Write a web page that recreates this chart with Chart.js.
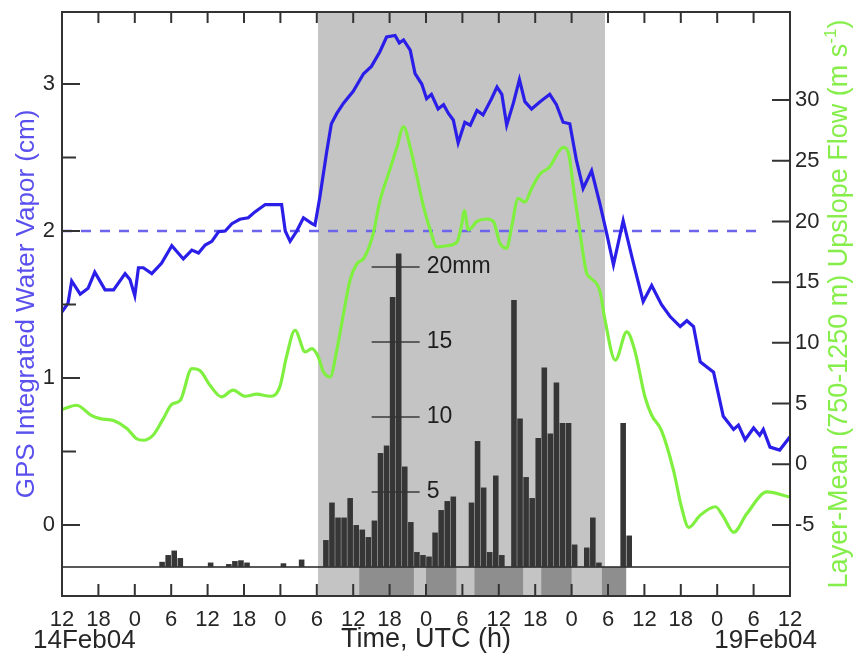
<!DOCTYPE html>
<html>
<head>
<meta charset="utf-8">
<script src="https://cdn.jsdelivr.net/npm/chart.js@4.4.0/dist/chart.umd.min.js"></script>
<style>
  html, body { margin: 0; padding: 0; background: #fff; }
  #wrap { width: 853px; height: 658px; position: relative; }
</style>
</head>
<body>
<div id="wrap"><canvas id="iwvChart"></canvas></div>
<script>
// x values are hours since 14 Feb 2004 12 UTC
const iwvHours = [0, 1, 1.6, 3, 4.3, 5.4, 7.1, 8.5, 10.4, 11.2,
  12, 12.6, 13.4, 14.8, 16.4, 18.1, 20, 21.4, 22.5, 23.6,
  24.7, 25.8, 26.9, 28, 29.3, 30.7, 31.8, 33.5, 36.2, 36.8,
  37.6, 38.7, 39.8, 41.2, 41.7, 42.5, 43.6, 44.4, 45.3, 46.4,
  48, 49.7, 51, 52.4, 53.5, 54.9, 55.6, 56.3, 57.4, 58.2,
  59.3, 60.1, 60.9, 62, 62.9, 63.7, 64.5, 65.3, 66.4, 67.3,
  68.4, 69.4, 70.8, 71.7, 72.5, 73.3, 74.4, 75.4, 76.3, 77.4,
  78.8, 80.4, 81.5, 82.6, 83.7, 84.8, 85.9, 87.3, 88.7, 89.8,
  90.9, 92.5, 94.2, 95.8, 97.2, 98.8, 100.2, 101.9, 103, 104.1,
  105.2, 107.4, 109, 110.7, 111.5, 112.6, 114, 115, 115.6, 116.7,
  118.3, 120];
const iwvCm = [1.45, 1.51, 1.66, 1.57, 1.61, 1.72, 1.60, 1.60, 1.71, 1.67,
  1.56, 1.75, 1.75, 1.71, 1.78, 1.90, 1.81, 1.87, 1.85, 1.905,
  1.93, 1.995, 2.00, 2.05, 2.08, 2.09, 2.13, 2.18, 2.18, 2.00,
  1.93, 2.00, 2.09, 2.05, 2.04, 2.23, 2.53, 2.73, 2.80, 2.87,
  2.95, 3.07, 3.12, 3.22, 3.32, 3.33, 3.28, 3.30, 3.23, 3.07,
  3.00, 2.90, 2.93, 2.83, 2.86, 2.80, 2.755, 2.60, 2.74, 2.72,
  2.82, 2.79, 2.90, 2.98, 2.93, 2.72, 2.87, 3.03, 2.88, 2.83,
  2.88, 2.93, 2.86, 2.74, 2.73, 2.48, 2.29, 2.41, 2.18, 1.98,
  1.77, 2.07, 1.78, 1.52, 1.63, 1.50, 1.42, 1.35, 1.39, 1.35,
  1.11, 1.04, 0.74, 0.65, 0.68, 0.58, 0.66, 0.61, 0.65, 0.53,
  0.51, 0.60];

const flowHours = [0, 2.4, 4.9, 6.3, 8.5, 10.7, 12.3, 13.4, 15, 16.7,
  18.1, 19.5, 21.4, 22.7, 24.4, 26.3, 28.2, 30.2, 32.1, 34.3,
  35.9, 37, 38.4, 40.1, 41.2, 42.2, 43.1, 44.2, 45.3, 46.4,
  47.5, 48.6, 49.8, 51.3, 52.4, 53.8, 55.2, 56.3, 57.4, 58.5,
  59.6, 60.7, 61.8, 63.4, 65.1, 65.9, 66.3, 67, 68.4, 70,
  71.1, 72.2, 73.3, 74.1, 75.2, 76.3, 77.4, 78.8, 80.4, 81.8,
  82.6, 83.5, 84.3, 85.4, 86.5, 87, 88.7, 89.5, 91.2, 93.1,
  94.4, 96.1, 97.2, 98.8, 100.8, 102.1, 103.3, 105.2, 107.7, 109,
  110.7, 112.9, 116.2, 120];
const flowMs = [4.5, 4.86, 4.0, 3.76, 3.6, 2.94, 2.1, 1.98, 2.39, 3.76,
  4.94, 5.27, 7.88, 7.74, 6.5, 5.55, 6.1, 5.6, 5.77, 5.6,
  6.37, 8.84, 11.04, 9.25, 9.53, 8.9, 7.6, 7.19, 9.4, 12.4,
  15.2, 16.5, 17.0, 19.0, 21.7, 23.9, 26.1, 27.8, 26.1, 23.7,
  21.2, 19.3, 17.9, 18.0, 18.3, 19.8, 20.9, 19.3, 20.0, 20.2,
  20.0, 18.2, 17.8, 19.5, 21.9, 21.6, 22.7, 23.9, 24.5, 25.7,
  26.1, 25.6, 22.8, 19.0, 15.7, 15.4, 14.2, 11.9, 8.57, 10.9,
  9.39, 5.54, 4.04, 2.8, -0.5, -3.5, -5.2, -4.2, -3.5, -4.3,
  -5.6, -4.06, -2.28, -2.7];

// hourly precipitation (mm), bar covers the hour starting at precipHours
const precipHours = [16, 17, 18, 19, 24, 27, 28, 29, 30, 36, 39,
  43, 44, 45, 46, 47, 48, 49, 50, 51, 52, 53, 54, 55, 56, 57, 58, 59, 60, 61, 62, 63, 64,
  67, 68, 69, 70, 71, 72,
  74, 75, 76, 77, 78, 79, 80, 81, 82, 83, 84,
  86, 87, 88, 92, 93];
const precipMm = [0.35, 0.8, 1.1, 0.6, 0.3, 0.2, 0.4, 0.45, 0.3, 0.25, 0.5,
  1.8, 4.3, 3.3, 3.3, 4.6, 2.8, 2.5, 2.0, 3.1, 7.6, 8.1, 18.0, 20.9, 6.7, 3.0, 1.0, 0.8, 0.7, 2.3, 3.8, 4.4, 4.7,
  4.3, 8.4, 5.3, 1.0, 6.1, 0.8,
  17.8, 9.9, 6.0, 4.6, 8.6, 13.3, 8.9, 12.3, 9.6, 9.6, 1.5,
  1.3, 3.3, 0.3, 9.6, 2.1];

const thresholdCm = 2;
const thresholdEndHour = 114.5;
const shadeStart = 42.2;
const shadeEnd = 89.5;
const stripStart = [49, 60, 68, 79, 89];
const stripEnd = [58, 65, 76, 84, 93];
const rainScaleHour = 55;
const rainScaleTicks = [5, 10, 15, 20];
const xTickHours = [6, 12, 18, 24, 30, 36, 42, 48, 54, 60, 66, 72, 78, 84, 90, 96, 102, 108, 114];
const leftTicks = [0, 0.5, 1, 1.5, 2, 2.5, 3];
const rightTicks = [-5, 0, 5, 10, 15, 20, 25, 30];
const startLabel = '14Feb04';
const endLabel = '19Feb04';

const FONT = '"Liberation Sans", Arial, Helvetica, sans-serif';
const INK = '#262626';
const toPoints = (xs, ys) => xs.map((x, i) => ({ x: x, y: ys[i] }));

// vertical axes: keep the plot area at the top padding only
const fitVertical = w => s => { s.width = w; s.paddingTop = 0; s.paddingBottom = 0; };

const decor = {
    id: 'decor',
    beforeDatasetsDraw(chart) {
        const { ctx, chartArea: a, scales: { x, y2 } } = chart;
        ctx.save();
        // shaded period
        const s0 = x.getPixelForValue(shadeStart), s1 = x.getPixelForValue(shadeEnd);
        ctx.fillStyle = '#c4c4c4';
        ctx.fillRect(s0, a.top, s1 - s0, a.bottom - a.top);
        // darker periods in strip below rain baseline
        const base = y2.getPixelForValue(0);
        ctx.fillStyle = '#8e8e8e';
        stripStart.forEach((s, i) => {
            const p0 = x.getPixelForValue(s), p1 = x.getPixelForValue(stripEnd[i]);
            ctx.fillRect(p0, base, p1 - p0, a.bottom - base);
        });
        ctx.strokeStyle = '#222';
        ctx.lineWidth = 1.5;
        ctx.beginPath();
        ctx.moveTo(a.left, base);
        ctx.lineTo(a.right, base);
        ctx.stroke();
        ctx.restore();
    },
    afterDatasetsDraw(chart) {
        const { ctx, scales: { x, y2 } } = chart;
        const xc = x.getPixelForValue(rainScaleHour);
        ctx.save();
        ctx.strokeStyle = 'rgba(50,50,50,0.7)';
        ctx.lineWidth = 2;
        ctx.fillStyle = '#1e1e1e';
        ctx.font = '23px ' + FONT;
        ctx.textBaseline = 'middle';
        ctx.textAlign = 'left';
        rainScaleTicks.forEach(v => {
            const py = y2.getPixelForValue(v);
            ctx.beginPath();
            ctx.moveTo(xc - 24, py);
            ctx.lineTo(xc + 24, py);
            ctx.stroke();
            ctx.fillText(v === 20 ? '20mm' : String(v), xc + 31, py);
        });
        ctx.restore();
    },
    afterDraw(chart) {
        const { ctx, chartArea: a, scales: { x, y, y1 } } = chart;
        ctx.save();
        ctx.strokeStyle = '#333';
        ctx.lineWidth = 2;
        ctx.strokeRect(a.left, a.top, a.right - a.left, a.bottom - a.top);
        ctx.beginPath();
        xTickHours.forEach(h => {
            const px = x.getPixelForValue(h);
            ctx.moveTo(px, a.top); ctx.lineTo(px, a.top + 11);
            ctx.moveTo(px, a.bottom); ctx.lineTo(px, a.bottom - 12);
        });
        leftTicks.forEach(v => {
            const py = y.getPixelForValue(v);
            ctx.moveTo(a.left, py); ctx.lineTo(a.left + (Number.isInteger(v) ? 18 : 14), py);
        });
        rightTicks.forEach(v => {
            const py = y1.getPixelForValue(v);
            ctx.moveTo(a.right, py); ctx.lineTo(a.right - 18, py);
        });
        ctx.stroke();

        // date labels under the first and last tick
        ctx.fillStyle = INK;
        ctx.font = '26px ' + FONT;
        ctx.textBaseline = 'middle';
        ctx.textAlign = 'left';
        ctx.fillText(startLabel, x.getPixelForValue(0) - 29, 641);
        ctx.textAlign = 'right';
        ctx.fillText(endLabel, x.getPixelForValue(120) + 27, 641);

        // right axis title, reading bottom to top
        const parts = [
            { t: 'Layer-Mean (750-1250 m) Upslope Flow (m s', size: 27, dy: 0 },
            { t: '-1', size: 17, dy: -9 },
            { t: ')', size: 27, dy: 0 }
        ];
        let total = 0;
        parts.forEach(p => { ctx.font = p.size + 'px ' + FONT; p.w = ctx.measureText(p.t).width; total += p.w; });
        ctx.translate(840, (a.top + a.bottom) / 2);
        ctx.rotate(-Math.PI / 2);
        ctx.fillStyle = '#86ee4a';
        ctx.textAlign = 'left';
        let cx = -total / 2;
        parts.forEach(p => {
            ctx.font = p.size + 'px ' + FONT;
            ctx.fillText(p.t, cx, p.dy);
            cx += p.w;
        });
        ctx.restore();
    }
};

const ctx = document.getElementById('iwvChart').getContext('2d');
new Chart(ctx, {
    data: {
        datasets: [
            {
                type: 'line',
                label: 'GPS IWV',
                data: toPoints(iwvHours, iwvCm),
                yAxisID: 'y',
                borderColor: '#2a1ee8',
                borderWidth: 3.2,
                pointRadius: 0,
                tension: 0,
                order: 0
            },
            {
                type: 'line',
                label: 'Upslope flow',
                data: toPoints(flowHours, flowMs),
                yAxisID: 'y1',
                borderColor: '#80f040',
                borderWidth: 3.2,
                pointRadius: 0,
                cubicInterpolationMode: 'monotone',
                order: 1
            },
            {
                type: 'line',
                label: '2 cm',
                data: [{ x: 0, y: thresholdCm }, { x: thresholdEndHour, y: thresholdCm }],
                yAxisID: 'y',
                borderColor: '#6c64ec',
                borderWidth: 2.5,
                borderDash: [10, 9],
                pointRadius: 0,
                order: 2
            },
            {
                type: 'bar',
                label: 'Precipitation',
                data: toPoints(precipHours.map(h => h + 0.5), precipMm),
                yAxisID: 'y2',
                backgroundColor: '#363636',
                barPercentage: 0.92,
                categoryPercentage: 1,
                order: 3
            }
        ]
    },
    options: {
        responsive: true,
        maintainAspectRatio: false,
        animation: false,
        events: [],
        layout: { padding: { top: 12, left: 0, right: 0, bottom: 0 } },
        plugins: { legend: { display: false }, tooltip: { enabled: false } },
        scales: {
            x: {
                type: 'linear',
                position: 'bottom',
                offset: false,
                min: 0,
                max: 120,
                grid: { display: false, drawTicks: false, offset: false },
                border: { display: false },
                ticks: {
                    stepSize: 6,
                    autoSkip: false,
                    maxRotation: 0,
                    padding: 11,
                    color: INK,
                    font: { family: FONT, size: 22 },
                    callback: v => String((v + 12) % 24)
                },
                title: {
                    display: true,
                    text: 'Time, UTC (h)',
                    color: INK,
                    font: { family: FONT, size: 27 },
                    padding: { top: 0, bottom: 2 }
                },
                afterFit: s => { s.height = 62; s.paddingLeft = 0; s.paddingRight = 0; }
            },
            y: {
                position: 'left',
                min: -0.483,
                max: 3.49,
                grid: { display: false, drawTicks: false },
                border: { display: false },
                ticks: {
                    stepSize: 0.5,
                    includeBounds: false,
                    padding: 7,
                    color: INK,
                    font: { family: FONT, size: 22 },
                    callback: v => (Number.isInteger(v) ? String(v) : '')
                },
                title: {
                    display: true,
                    text: 'GPS Integrated Water Vapor (cm)',
                    color: '#5a50ee',
                    font: { family: FONT, size: 26 },
                    padding: { top: 11, bottom: 0 }
                },
                afterFit: fitVertical(62)
            },
            y1: {
                position: 'right',
                min: -10.85,
                max: 37.25,
                grid: { display: false, drawTicks: false },
                border: { display: false },
                ticks: {
                    stepSize: 5,
                    includeBounds: false,
                    padding: 5,
                    color: INK,
                    font: { family: FONT, size: 22 },
                    callback: v => (v >= -5 && v <= 30 ? String(v) : '')
                },
                afterFit: fitVertical(63)
            },
            y2: {
                display: false,
                min: -1.93,
                max: 37
            }
        }
    },
    plugins: [decor]
});
</script>
</body>
</html>
